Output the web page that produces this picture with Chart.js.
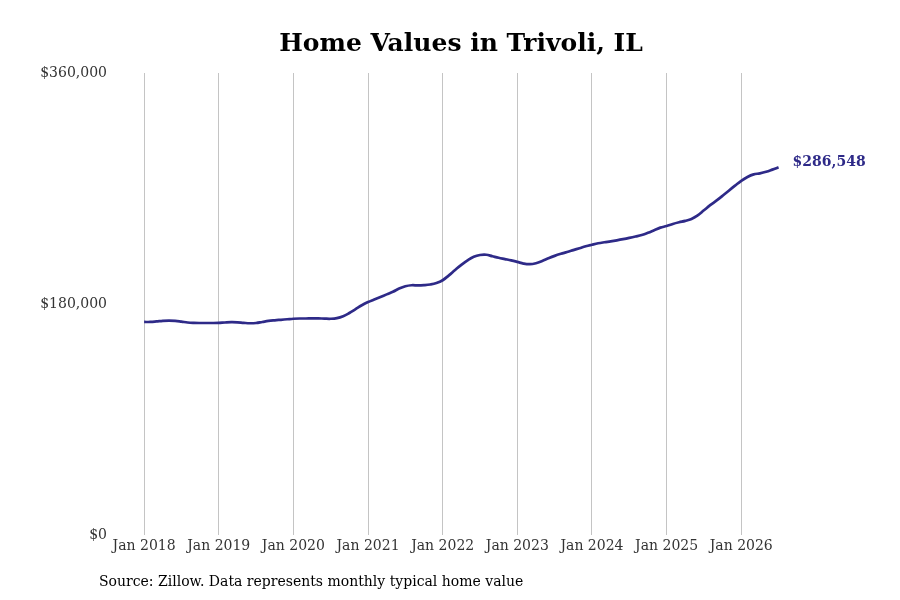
<!DOCTYPE html>
<html>
<head>
<meta charset="utf-8">
<script src="https://cdn.jsdelivr.net/npm/chart.js@4.4.1/dist/chart.umd.min.js"></script>
<style>
  html,body{margin:0;padding:0;background:#fff}
  #wrap{width:900px;height:600px}
</style>
</head>
<body>
<div id="wrap"><canvas id="c" width="900" height="600"></canvas></div>
<script>
// ── Data: monthly typical home value, Jan 2018 .. Jul 2026 ──
const startYear=2018;
const yearTicks=[0,12,24,36,48,60,72,84,96];           // month index of each January
const yTicks=[0,180000,360000];
const values2018=[166.0,166.0,166.4,166.9,167.1,166.9,166.3,165.6,165.3,165.2,165.2,165.2];
const values2019=[165.3,165.6,165.8,165.7,165.3,165.0,165.2,166.0,166.8,167.3,167.7,168.1];
const values2020=[168.5,168.7,168.7,168.8,168.8,168.6,168.5,169.0,170.5,173.0,176.0,179.0];
const values2021=[181.5,183.5,185.5,187.5,189.5,192.0,193.8,194.6,194.5,194.7,195.2,196.3];
const values2022=[198.5,202.3,206.5,210.5,214.0,216.8,218.2,218.4,217.2,216.0,215.0,214.0];
const values2023=[212.8,211.5,211.0,211.8,213.5,215.6,217.5,219.1,220.5,222.0,223.5,225.0];
const values2024=[226.2,227.3,228.1,228.8,229.6,230.5,231.5,232.6,233.8,235.5,237.5,239.5];
const values2025=[240.8,242.4,243.7,244.8,246.3,249.0,253.0,257.0,260.5,264.3,268.3,272.2];
const values2026=[276.0,279.0,281.0,281.8,283.0,284.7,286.548];

const values=[...values2018,...values2019,...values2020,...values2021,...values2022,
  ...values2023,...values2024,...values2025,...values2026].map(v=>Math.round(v*1000));
const points=values.map((v,i)=>({x:i,y:v}));

const LINE='#2e2a88';
const SERIF='"DejaVu Serif", serif';
const money=v=>'$'+v.toLocaleString('en-US');

// ── Title, source and end label ──
const textPlugin={
  id:'texts',
  afterDraw(chart){
    const ctx=chart.ctx;
    ctx.save();
    ctx.fillStyle='#000';
    ctx.font='bold 25px '+SERIF;
    ctx.textAlign='center';ctx.textBaseline='middle';
    ctx.fillText('Home Values in Trivoli, IL',461,44);
    ctx.font='14px '+SERIF;
    ctx.textAlign='left';
    ctx.fillText('Source: Zillow. Data represents monthly typical home value',99,582);
    // end label at last point
    const last=points[points.length-1];
    const px=chart.scales.x.getPixelForValue(last.x);
    const py=chart.scales.y.getPixelForValue(last.y);
    ctx.fillStyle=LINE;
    ctx.font='bold 14px '+SERIF;
    ctx.fillText(money(last.y),px+14,py-5);
    ctx.restore();
  }
};

new Chart(document.getElementById('c'),{
  type:'line',
  data:{datasets:[{data:points,borderColor:LINE,borderWidth:2.7,pointRadius:0,tension:0.4,fill:false}]},
  options:{
    responsive:false,animation:false,
    layout:{padding:{top:73,right:109,left:0,bottom:0}},
    plugins:{legend:{display:false},tooltip:{enabled:false},title:{display:false}},
    scales:{
      x:{type:'linear',min:-5,max:104,
        afterBuildTicks:s=>{s.ticks=yearTicks.map(v=>({value:v}))},
        afterFit:s=>{s.height=65},
        grid:{color:'#c4c4c4',lineWidth:1,drawTicks:false},
        border:{display:false},
        ticks:{padding:3,color:'#333',font:{family:SERIF,size:14},maxRotation:0,autoSkip:false,
          callback:v=>'Jan '+(startYear+v/12)}
      },
      y:{min:0,max:360000,
        afterBuildTicks:s=>{s.ticks=yTicks.map(v=>({value:v}))},
        afterFit:s=>{s.width=113},
        grid:{display:false,drawTicks:false},
        border:{display:false},
        ticks:{padding:6,color:'#333',font:{family:SERIF,size:14},callback:v=>money(v)}
      }
    }
  },
  plugins:[textPlugin]
});
</script>
</body>
</html>
